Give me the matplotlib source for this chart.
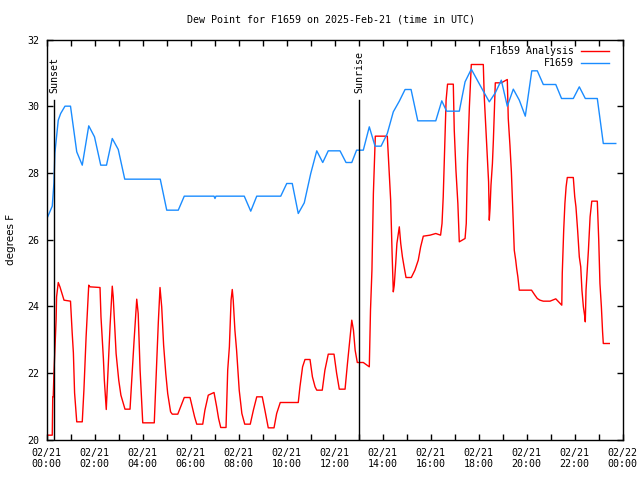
import matplotlib
matplotlib.use("Agg")
import matplotlib.pyplot as plt

# ---- data: (hours since 02/21 00:00 UTC, dew point deg F) ----
analysis_pts = [
    (0.0, 20.13), (0.24, 20.13), (0.26, 21.28), (0.28, 21.28), (0.31, 21.98), (0.40, 23.58),
    (0.42, 24.28), (0.49, 24.71), (0.56, 24.58), (0.73, 24.18), (1.0, 24.15), (1.07, 23.2),
    (1.12, 22.6), (1.17, 21.4), (1.26, 20.53), (1.49, 20.53), (1.56, 21.5), (1.65, 23.08),
    (1.76, 24.63), (1.81, 24.58), (2.23, 24.56), (2.27, 23.68), (2.37, 22.43), (2.41, 21.78),
    (2.49, 20.9), (2.55, 21.83), (2.65, 23.43), (2.74, 24.6), (2.78, 24.28), (2.90, 22.58),
    (3.01, 21.78), (3.10, 21.33), (3.27, 20.91), (3.48, 20.91), (3.55, 21.78), (3.65, 22.98),
    (3.76, 24.21), (3.82, 23.78), (3.90, 22.08), (4.01, 20.5), (4.49, 20.5), (4.56, 21.78),
    (4.66, 23.53), (4.73, 24.56), (4.80, 23.98), (4.88, 22.83), (4.97, 21.98), (5.05, 21.38),
    (5.17, 20.83), (5.24, 20.76), (5.47, 20.76), (5.74, 21.26), (5.98, 21.26), (6.17, 20.68),
    (6.26, 20.46), (6.51, 20.46), (6.60, 20.88), (6.74, 21.33), (6.98, 21.41), (7.09, 20.98),
    (7.17, 20.63), (7.26, 20.36), (7.48, 20.36), (7.55, 22.08), (7.62, 22.78), (7.69, 24.18),
    (7.74, 24.5), (7.78, 24.18), (7.85, 23.28), (7.92, 22.68), (8.03, 21.48), (8.14, 20.78),
    (8.26, 20.46), (8.49, 20.46), (8.62, 20.88), (8.76, 21.28), (8.99, 21.28), (9.10, 20.88),
    (9.24, 20.35), (9.48, 20.35), (9.59, 20.78), (9.74, 21.11), (10.49, 21.11), (10.56, 21.58),
    (10.67, 22.18), (10.77, 22.4), (10.98, 22.4), (11.08, 21.88), (11.19, 21.58), (11.26, 21.48),
    (11.49, 21.48), (11.60, 22.08), (11.74, 22.56), (11.98, 22.56), (12.09, 21.98), (12.20, 21.51),
    (12.44, 21.51), (12.54, 22.28), (12.65, 23.08), (12.72, 23.58), (12.79, 23.28), (12.86, 22.68),
    (12.95, 22.31), (13.20, 22.31), (13.45, 22.18), (13.50, 23.88), (13.56, 25.08), (13.62, 27.38),
    (13.70, 29.10), (14.20, 29.10), (14.28, 27.98), (14.34, 27.18), (14.40, 25.58), (14.45, 24.43),
    (14.49, 24.63), (14.55, 25.28), (14.60, 25.88), (14.70, 26.38), (14.76, 25.88), (14.83, 25.48),
    (14.90, 25.18), (14.98, 24.86), (15.20, 24.86), (15.35, 25.08), (15.49, 25.38), (15.59, 25.78),
    (15.70, 26.10), (15.98, 26.13), (16.22, 26.18), (16.42, 26.13), (16.48, 26.48), (16.53, 27.28),
    (16.59, 28.68), (16.65, 30.18), (16.71, 30.66), (16.95, 30.66), (16.99, 29.28), (17.06, 28.08),
    (17.14, 27.08), (17.20, 25.93), (17.44, 26.03), (17.49, 26.48), (17.54, 28.28), (17.62, 29.98),
    (17.70, 31.25), (18.20, 31.25), (18.24, 30.28), (18.31, 29.28), (18.37, 28.48), (18.42, 27.73),
    (18.45, 26.58), (18.48, 26.93), (18.52, 27.63), (18.58, 28.28), (18.62, 28.98), (18.70, 30.70),
    (18.95, 30.70), (19.20, 30.80), (19.24, 29.63), (19.31, 28.83), (19.37, 28.03), (19.41, 27.28),
    (19.45, 26.48), (19.49, 25.68), (19.55, 25.38), (19.59, 25.13), (19.64, 24.88), (19.70, 24.48),
    (20.21, 24.48), (20.35, 24.33), (20.45, 24.23), (20.56, 24.18), (20.70, 24.15), (20.98, 24.15),
    (21.22, 24.22), (21.47, 24.03), (21.49, 24.98), (21.55, 26.28), (21.60, 27.08), (21.65, 27.58),
    (21.70, 27.86), (21.95, 27.86), (22.01, 27.28), (22.06, 26.98), (22.13, 26.28), (22.20, 25.48),
    (22.26, 25.18), (22.31, 24.48), (22.37, 23.98), (22.42, 23.73), (22.45, 23.53), (22.48, 24.48),
    (22.53, 25.08), (22.58, 25.68), (22.65, 26.68), (22.72, 27.15), (22.95, 27.15), (23.01, 25.98),
    (23.06, 24.68), (23.12, 23.98), (23.17, 23.23), (23.20, 22.88), (23.45, 22.88),
]
station_pts = [
    (0.0, 26.6), (0.24, 27.0), (0.31, 27.7), (0.35, 28.6), (0.49, 29.58), (0.59, 29.78),
    (0.77, 30.0), (1.0, 30.0), (1.26, 28.63), (1.49, 28.23), (1.76, 29.41), (2.0, 29.08),
    (2.26, 28.23), (2.5, 28.23), (2.74, 29.03), (2.99, 28.7), (3.26, 27.81), (4.74, 27.81),
    (5.01, 26.88), (5.49, 26.88), (5.74, 27.3), (6.98, 27.3), (7.02, 27.23), (7.06, 27.3),
    (8.24, 27.3), (8.51, 26.85), (8.76, 27.3), (9.76, 27.3), (10.01, 27.68), (10.24, 27.68),
    (10.49, 26.78), (10.74, 27.1), (11.01, 27.98), (11.26, 28.66), (11.51, 28.31), (11.74, 28.66),
    (12.23, 28.66), (12.48, 28.31), (12.72, 28.31), (12.92, 28.68), (13.2, 28.68), (13.45, 29.38),
    (13.69, 28.8), (13.94, 28.8), (14.2, 29.18), (14.45, 29.83), (14.7, 30.15), (14.94, 30.5),
    (15.19, 30.5), (15.47, 29.56), (16.22, 29.56), (16.47, 30.16), (16.67, 29.85), (17.2, 29.85),
    (17.44, 30.73), (17.7, 31.11), (17.95, 30.78), (18.2, 30.45), (18.45, 30.13), (18.7, 30.4),
    (18.95, 30.78), (19.2, 30.0), (19.45, 30.51), (19.7, 30.18), (19.95, 29.7), (20.22, 31.06),
    (20.45, 31.06), (20.7, 30.65), (21.22, 30.65), (21.46, 30.23), (21.95, 30.23), (22.2, 30.58),
    (22.45, 30.23), (22.95, 30.23), (23.2, 28.88), (23.72, 28.88),
]
analysis_t = [p[0] for p in analysis_pts]
analysis_v = [p[1] for p in analysis_pts]
station_t = [p[0] for p in station_pts]
station_v = [p[1] for p in station_pts]

sunset_t, sunrise_t = 0.33, 13.03
sun_line_top = 30.2

xtick_hours = [0, 2, 4, 6, 8, 10, 12, 14, 16, 18, 20, 22, 24]
xtick_labels = ["02/21\n00:00", "02/21\n02:00", "02/21\n04:00", "02/21\n06:00", "02/21\n08:00",
                "02/21\n10:00", "02/21\n12:00", "02/21\n14:00", "02/21\n16:00", "02/21\n18:00",
                "02/21\n20:00", "02/21\n22:00", "02/22\n00:00"]
ytick_vals = [20, 22, 24, 26, 28, 30, 32]

RED = "#ff0000"
BLUE = "#1a8cff"
MONO = "DejaVu Sans Mono"

fig = plt.figure(figsize=(6.4, 4.8), dpi=100)
ax = fig.add_axes([46.5 / 640, 1 - 439.5 / 480, 576 / 640, 400 / 480])

ax.plot(analysis_t, analysis_v, color=RED, lw=1.0, label="F1659 Analysis")
ax.plot(station_t, station_v, color=BLUE, lw=1.0, label="F1659")

for t, name in [(sunset_t, "Sunset"), (sunrise_t, "Sunrise")]:
    ax.plot([t, t], [20, sun_line_top], color="black", lw=1.0)
    ax.text(t, sun_line_top + 0.2, name, rotation=90, ha="center", va="bottom",
            fontsize=7.2, family=MONO)

ax.set_xlim(0, 24)
ax.set_ylim(20, 32)
ax.set_xticks(xtick_hours)
ax.set_xticklabels(xtick_labels, fontsize=7.2, family=MONO)
ax.set_xticks(range(0, 25), minor=True)
ax.set_yticks(ytick_vals)
ax.set_yticklabels([str(v) for v in ytick_vals], fontsize=7.2, family=MONO)
ax.tick_params(which="both", direction="in", top=True, right=True, length=4, width=1)
ax.tick_params(axis="x", pad=6)
ax.tick_params(axis="y", pad=5)
for s in ax.spines.values():
    s.set_linewidth(1.0)

ax.set_ylabel("degrees F", fontsize=7.5, labelpad=8)
fig.text(331 / 640, 1 - 20 / 480, "Dew Point for F1659 on 2025-Feb-21 (time in UTC)",
         ha="center", va="center", fontsize=7.2, family=MONO)

leg = ax.legend(loc="upper right", bbox_to_anchor=(1 - 6.5 / 576, 1.0), frameon=False,
                prop={"family": MONO, "size": 7.2},
                markerfirst=False, handlelength=2.8, handletextpad=0.7, labelspacing=0.15,
                borderaxespad=0.3)
leg._legend_box.align = "right"

fig.savefig("out.png", dpi=100)
